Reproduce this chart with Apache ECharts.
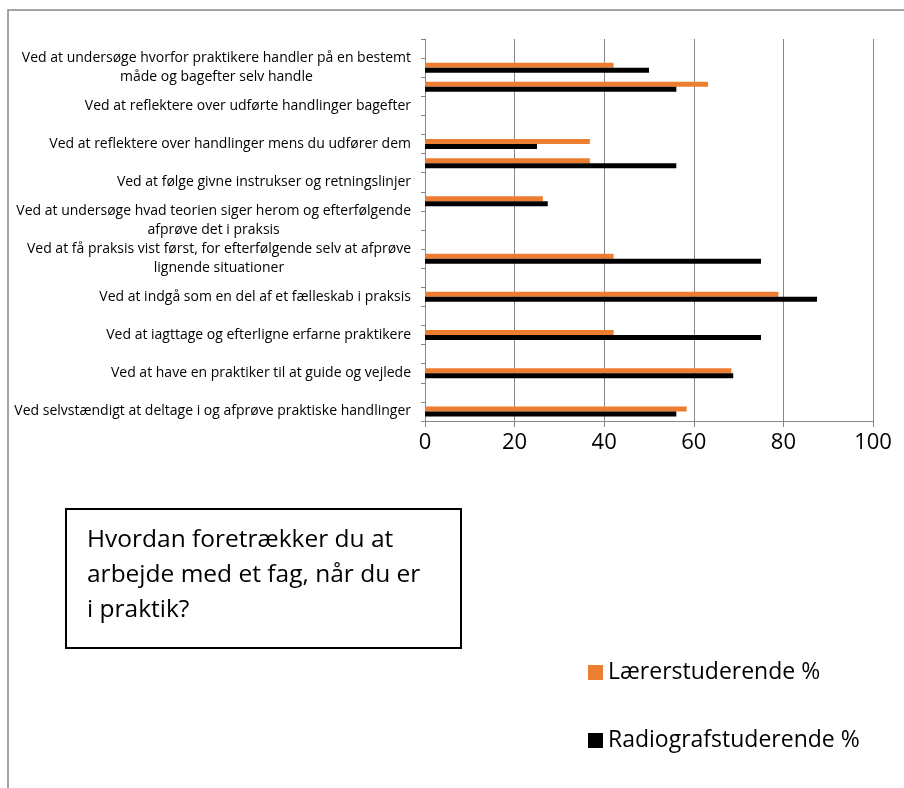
<!DOCTYPE html>
<html>
<head>
<meta charset="utf-8">
<title>Hvordan foretrækker du at arbejde med et fag</title>
<script src="https://cdn.jsdelivr.net/npm/echarts@6/dist/echarts.min.js"></script>
<style>
	html, body { margin: 0; padding: 0; background: #fff; }
	#chart { width: 904px; height: 788px; }
</style>
</head>
<body>
<div id="chart"></div>
<script>
	// kategorier nedefra og op (tomme rækker har ingen synlig tekst)
	var categories = [
		'Ved selvstændigt at deltage i og afprøve praktiske handlinger',
		'',
		'Ved at have en praktiker til at guide og vejlede',
		'',
		'Ved at iagttage og efterligne erfarne praktikere',
		'',
		'Ved at indgå som en del af et fælleskab i praksis',
		'',
		'Ved at få praksis vist først, for efterfølgende selv at afprøve\nlignende situationer',
		'',
		'Ved at undersøge hvad teorien siger herom og efterfølgende\nafprøve det i praksis',
		'',
		'Ved at følge givne instrukser og retningslinjer',
		'',
		'Ved at reflektere over handlinger mens du udfører dem',
		'',
		'Ved at reflektere over udførte handlinger bagefter',
		'',
		'Ved at undersøge hvorfor praktikere handler på en bestemt\nmåde og bagefter selv handle',
		''
	];
	var laererValues = [58.4, null, 68.4, null, 42.1, null, 78.9, null, 42.1, null, null, 26.3, null, 36.8, 36.8, null, null, 63.2, 42.1, null];
	var radiografValues = [56.1, null, 68.8, null, 75.0, null, 87.5, null, 75.0, null, null, 27.4, null, 56.1, 25.0, null, null, 56.1, 50.0, null];
	var xTicks = [0, 20, 40, 60, 80, 100];
	var seriesNames = ['Lærerstuderende %', 'Radiografstuderende %'];
	var titleText = 'Hvordan foretrækker du at\narbejde med et fag, når du er\ni praktik?';

	var chart = echarts.init(document.getElementById('chart'), null, { renderer: 'canvas' });
	var baseFont = '"Open Sans", "Liberation Sans", sans-serif';
	var gridColor = '#868686';

	var option = {
		backgroundColor: '#ffffff',
		animation: false,
		textStyle: { fontFamily: baseFont },
		grid: { left: 425, right: 31, top: 39, bottom: 367, containLabel: false },
		legend: {
			data: seriesNames,
			orient: 'vertical',
			left: 588,
			top: 661,
			padding: 0,
			icon: 'rect',
			itemWidth: 15,
			itemHeight: 15,
			itemGap: 45,
			textStyle: { fontSize: 23, lineHeight: 20, color: '#000', fontFamily: baseFont }
		},
		xAxis: {
			type: 'value',
			min: xTicks[0],
			max: xTicks[xTicks.length - 1],
			interval: 20,
			axisLine: { show: true, lineStyle: { color: gridColor, width: 1 } },
			axisTick: { show: true, length: 6, lineStyle: { color: gridColor } },
			splitLine: { show: true, lineStyle: { color: gridColor, width: 1 } },
			axisLabel: { fontSize: 22, color: '#000', margin: 11 }
		},
		yAxis: {
			type: 'category',
			data: categories,
			axisLine: { show: true, lineStyle: { color: gridColor, width: 1 } },
			axisTick: { show: true, length: 4, interval: 0, lineStyle: { color: gridColor } },
			axisLabel: {
				interval: 0,
				margin: 14,
				fontSize: 14,
				color: '#000',
				lineHeight: 19,
				formatter: function (val) {
					if (!val) return '';
					return val.split('\n').map(function (l) { return '{c|' + l + '}'; }).join('\n');
				},
				rich: { c: { align: 'center', fontSize: 14, lineHeight: 19, color: '#000', fontFamily: baseFont } }
			}
		},
		series: [
			{
				name: seriesNames[0],
				type: 'bar',
				data: laererValues,
				barWidth: 5,
				barGap: '0%',
				itemStyle: { color: '#ED7D31' }
			},
			{
				name: seriesNames[1],
				type: 'bar',
				data: radiografValues,
				barWidth: 5,
				barGap: '0%',
				itemStyle: { color: '#000000' }
			}
		],
		graphic: [
			{
				// ydre ramme
				type: 'polyline',
				shape: { points: [[8, 788], [8, 10], [904, 10]] },
				style: { stroke: gridColor, lineWidth: 1.5, fill: null },
				silent: true
			},
			{
				type: 'rect',
				shape: { x: 66, y: 509, width: 395, height: 139 },
				style: { stroke: '#000', lineWidth: 2, fill: '#fff' },
				silent: true
			},
			{
				type: 'text',
				left: 87,
				top: 523,
				style: {
					text: titleText,
					font: '24.5px ' + baseFont,
					lineHeight: 35,
					fill: '#000'
				},
				silent: true
			}
		]
	};

	chart.setOption(option);
</script>
</body>
</html>
